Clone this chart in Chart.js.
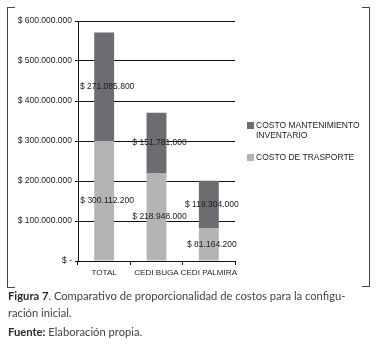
<!DOCTYPE html>
<html>
<head>
<meta charset="utf-8">
<script src="https://cdn.jsdelivr.net/npm/chart.js@4"></script>
<style>
  html, body { margin: 0; padding: 0; background: #fff; }
  #wrap { position: relative; width: 376px; height: 344px; overflow: hidden; }
  #chart { position: absolute; left: 0; top: 0; }
  .frame { position: absolute; border-color: #444; border-style: solid; border-width: 0; }
  #legend { position: absolute; left: 247px; top: 120px; font-family: "Liberation Sans", Arial, sans-serif; font-size: 8.5px; color: #222; line-height: 10px; }
  .item { position: relative; padding-left: 9px; }
  .sw { position: absolute; left: 0; top: 2px; width: 7px; height: 7px; }
  #caption { position: absolute; left: 8px; top: 289px; font-family: Lato, "Open Sans", sans-serif; font-size: 11.2px; color: #444; }
  #caption div { position: absolute; left: 0; white-space: nowrap; }
  #caption b { font-weight: 700; color: #2a2a2a; }
</style>
</head>
<body>
<div id="wrap">
  <canvas id="chart" width="376" height="290"></canvas>
  <!-- corner brackets around the figure -->
  <div class="frame" style="left:7px; top:7px; width:7px; height:279px; border-left-width:1px; border-top-width:1px; border-bottom-width:1px; border-right-width:0;"></div>
  <div class="frame" style="left:362px; top:7px; width:7px; height:278px; border-right-width:1px; border-top-width:1px; border-bottom-width:1px;"></div>
  <div id="legend"></div>
  <div id="caption">
    <div style="top:0px;"><b>Figura 7</b>. Comparativo de proporcionalidad de costos para la configu-</div>
    <div style="top:17px;">ración inicial.</div>
    <div style="top:36px;"><b>Fuente:</b> Elaboración propia.</div>
  </div>
</div>
<script>
// Cost comparison: inventory maintenance vs. transport, per distribution centre
const categories = ["TOTAL", "CEDI BUGA", "CEDI PALMIRA"];
const costoMantenimiento = [271085800, 151781000, 119304000];
const costoTrasporte = [300112200, 218948000, 81164200];
const seriesNames = ["COSTO MANTENIMIENTO\nINVENTARIO", "COSTO DE TRASPORTE"];
const yTicks = [0, 100000000, 200000000, 300000000, 400000000, 500000000, 600000000];

const DARK = "#6c6d70";
const LIGHT = "#b3b4b6";
const FONT = '"Liberation Sans", Arial, sans-serif';

function money(v) {
  if (v === 0) return "$ -";
  return "$ " + Math.round(v).toString().replace(/\B(?=(\d{3})+(?!\d))/g, ".");
}

// value labels drawn in the middle of each stacked segment
const segmentLabels = {
  id: "segmentLabels",
  afterDatasetsDraw(chart) {
    const ctx = chart.ctx;
    ctx.save();
    ctx.font = "8.5px " + FONT;
    ctx.fillStyle = "#1a1a1a";
    ctx.textAlign = "center";
    ctx.textBaseline = "middle";
    chart.data.datasets.forEach((ds, di) => {
      const meta = chart.getDatasetMeta(di);
      meta.data.forEach((bar, i) => {
        const p = bar.getProps(["x", "y", "base"], true);
        ctx.fillText(money(ds.data[i]), p.x + 3, (p.y + p.base) / 2);
      });
    });
    ctx.restore();
  }
};

const chart = new Chart(document.getElementById("chart"), {
  type: "bar",
  data: {
    labels: categories,
    datasets: [
      { label: seriesNames[1], data: costoTrasporte, backgroundColor: LIGHT },
      { label: seriesNames[0], data: costoMantenimiento, backgroundColor: DARK }
    ]
  },
  options: {
    responsive: false,
    animation: false,
    devicePixelRatio: 1,
    layout: { padding: { left: 0, right: 141, top: 21, bottom: 0 } },
    plugins: { legend: { display: false }, tooltip: { enabled: false } },
    datasets: { bar: { categoryPercentage: 1, barPercentage: 0.38 } },
    scales: {
      x: {
        stacked: true,
        afterFit(s) { s.height = 29; },
        grid: { offset: true, drawOnChartArea: false, tickLength: 4, color: "#111", lineWidth: 1 },
        border: { display: true, color: "#111", width: 1 },
        ticks: { font: { family: FONT, size: 8.1 }, color: "#222", padding: 3, maxRotation: 0, autoSkip: false }
      },
      y: {
        stacked: true,
        min: 0,
        max: 600000000,
        afterFit(s) { s.width = 78; },
        afterBuildTicks(s) { s.ticks = yTicks.map(v => ({ value: v })); },
        grid: { color: "#111", lineWidth: 1, tickLength: 3 },
        border: { display: true, color: "#111", width: 1 },
        ticks: { font: { family: FONT, size: 8.5 }, color: "#222", padding: 3, callback: v => money(v) }
      }
    }
  },
  plugins: [segmentLabels]
});

// legend beside the plot
const legend = document.getElementById("legend");
[[seriesNames[0], DARK], [seriesNames[1], LIGHT]].forEach(([name, color], k) => {
  const item = document.createElement("div");
  item.className = "item";
  item.style.marginBottom = k === 0 ? "12px" : "0";
  const sw = document.createElement("span");
  sw.className = "sw";
  sw.style.background = color;
  item.appendChild(sw);
  name.split("\n").forEach(line => {
    const d = document.createElement("div");
    d.textContent = line;
    item.appendChild(d);
  });
  legend.appendChild(item);
});
</script>
</body>
</html>
